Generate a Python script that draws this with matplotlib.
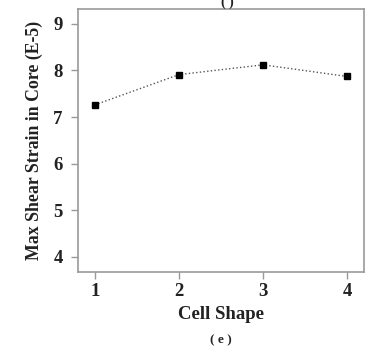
import matplotlib
matplotlib.use('Agg')
import matplotlib.pyplot as plt

cell_shape = [1, 2, 3, 4]
max_shear_strain = [7.26, 7.91, 8.12, 7.87]
y_ticks = [4, 5, 6, 7, 8, 9]

plt.rcParams['font.family'] = ['Liberation Serif', 'DejaVu Serif']
plt.rcParams['font.weight'] = 'bold'

fig = plt.figure(figsize=(3.86, 3.54), dpi=100)
ax = fig.add_axes([0.202, 0.232, 0.741, 0.743])

ax.plot(cell_shape, max_shear_strain, linestyle=':', color='#555555', linewidth=1.0,
        marker='s', markersize=4.5, markerfacecolor='black', markeredgecolor='black')

ax.set_xlim(0.8, 4.2)
ax.set_ylim(3.68, 9.32)
ax.set_xticks(cell_shape)
ax.set_yticks(y_ticks)

for s in ax.spines.values():
    s.set_color('#999999')
    s.set_linewidth(1.2)
ax.tick_params(direction='out', length=5, width=1, color='#999999',
               labelsize=13.5, labelcolor='#222222', pad=3)
ax.tick_params(axis='y', pad=6)

ax.set_xlabel('Cell Shape', fontsize=13.5, fontweight='bold', color='#222222', labelpad=4)
ax.set_ylabel('Max Shear Strain in Core (E-5)', fontsize=12.8, fontweight='bold',
              color='#222222', labelpad=7)

fig.text(0.59, 0.995, '( )', ha='center', va='center', fontsize=10, color='#222222')
fig.text(0.573, 0.04, '( e )', ha='center', va='center', fontsize=9.5, color='#222222')

fig.savefig('out.png', dpi=100)
